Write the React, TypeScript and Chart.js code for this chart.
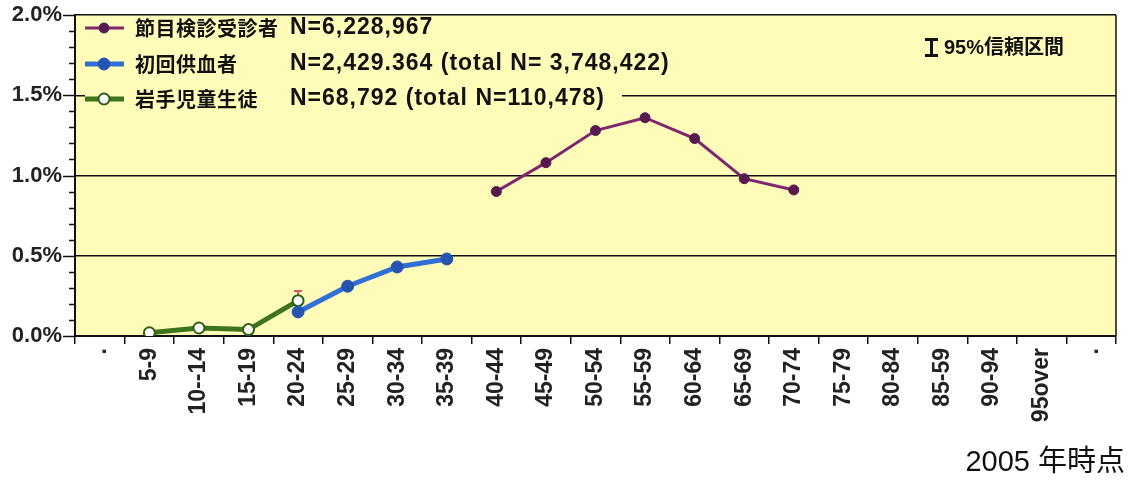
import React, { useEffect, useRef } from "react";
import { Chart, registerables } from "chart.js";

Chart.register(...registerables);

const FONT = "'Liberation Sans', 'Noto Sans CJK JP', sans-serif";
const CJK = "'Noto Sans CJK JP', 'Liberation Sans', sans-serif";

const ageGroups = [".", "5-9", "10--14", "15-19", "20-24", "25-29", "30-34", "35-39", "40-44", "45-49", "50-54", "55-59", "60-64", "65-69", "70-74", "75-79", "80-84", "85-59", "90-94", "95over", "."];

const checkupRates = [null, null, null, null, null, null, null, null, 0.9, 1.08, 1.28, 1.36, 1.23, 0.98, 0.91, null, null, null, null, null, null];
const donorRates = [null, null, null, null, 0.15, 0.31, 0.43, 0.48, null, null, null, null, null, null, null, null, null, null, null, null, null];
const studentRates = [null, 0.02, 0.05, 0.04, 0.22, null, null, null, null, null, null, null, null, null, null, null, null, null, null, null, null];
const studentCIUpper = [null, null, null, null, 0.28, null, null, null, null, null, null, null, null, null, null, null, null, null, null, null, null];

const seriesNames = ["節目検診受診者", "初回供血者", "岩手児童生徒"];
const seriesNotes = ["N=6,228,967", "N=2,429.364 (total N= 3,748,422)", "N=68,792 (total N=110,478)"];
const ciLabel = "95%信頼区間";
const footerText = "2005 年時点";

const BG = "#fffcb9";

const isMajor = (v: number) => Math.round(v * 10) % 5 === 0;

const decorPlugin = {
  id: "decor",
  beforeDraw(chart: any) {
    const { ctx, chartArea: a } = chart;
    ctx.save();
    ctx.fillStyle = "#ffffff";
    ctx.fillRect(0, 0, chart.width, chart.height);
    ctx.fillStyle = BG;
    ctx.fillRect(a.left, a.top, a.right - a.left, a.bottom - a.top);
    ctx.restore();
  },
  beforeDatasetsDraw(chart: any) {
    const { ctx, chartArea: a, scales } = chart;
    const y = scales.y;
    const x = scales.x;
    ctx.save();
    ctx.strokeStyle = "#111";
    ctx.lineWidth = 1.5;
    ctx.beginPath();
    ctx.moveTo(a.right, a.top);
    ctx.lineTo(a.right, a.bottom);
    ctx.stroke();
    y.ticks.forEach((t: any) => {
      const py = Math.round(y.getPixelForValue(t.value)) + 0.5;
      const len = isMajor(t.value) ? 12 : 6;
      ctx.beginPath();
      ctx.moveTo(a.left - len, py);
      ctx.lineTo(a.left, py);
      ctx.stroke();
    });
    ctx.fillStyle = BG;
    ctx.fillRect(85, a.top + 2, 622 - 85, 112 - a.top - 2);
    studentCIUpper.forEach((u, i) => {
      const v = studentRates[i];
      if (u == null || v == null) return;
      const px = x.getPixelForValue(i);
      const py0 = y.getPixelForValue(v);
      const py1 = y.getPixelForValue(u);
      ctx.strokeStyle = "#9a3a4a";
      ctx.lineWidth = 1.5;
      ctx.beginPath();
      ctx.moveTo(px, py0);
      ctx.lineTo(px, py1);
      ctx.stroke();
      ctx.strokeStyle = "#d8506a";
      ctx.lineWidth = 2;
      ctx.beginPath();
      ctx.moveTo(px - 4, py1);
      ctx.lineTo(px + 4, py1);
      ctx.stroke();
    });
    ctx.restore();
  },
  afterDatasetsDraw(chart: any) {
    const { ctx } = chart;
    ctx.save();
    const rows = [28, 64, 99];
    chart.data.datasets.forEach((ds: any, i: number) => {
      const ry = rows[i];
      ctx.strokeStyle = ds.borderColor;
      ctx.lineWidth = ds.borderWidth;
      ctx.beginPath();
      ctx.moveTo(85, ry);
      ctx.lineTo(124, ry);
      ctx.stroke();
      ctx.beginPath();
      ctx.arc(104, ry, ds.pointRadius, 0, Math.PI * 2);
      ctx.fillStyle = ds.pointBackgroundColor;
      ctx.fill();
      ctx.strokeStyle = ds.pointBorderColor;
      ctx.lineWidth = ds.pointBorderWidth;
      ctx.stroke();
      ctx.fillStyle = "#111";
      ctx.textBaseline = "middle";
      ctx.textAlign = "left";
      (ctx as any).letterSpacing = "0.5px";
      ctx.font = `bold 20px ${CJK}`;
      ctx.fillText(seriesNames[i], 135, ry);
      (ctx as any).letterSpacing = "1px";
      ctx.font = `bold 23px ${FONT}`;
      ctx.fillText(seriesNotes[i], 290, ry);
    });
    (ctx as any).letterSpacing = "0px";
    ctx.fillStyle = "#111";
    ctx.fillRect(925, 38, 13, 3);
    ctx.fillRect(930, 38, 3, 19);
    ctx.fillRect(925, 54, 13, 3);
    ctx.textBaseline = "middle";
    ctx.textAlign = "left";
    ctx.font = `bold 20px ${FONT}`;
    ctx.fillText(ciLabel, 944, 48);
    ctx.textAlign = "right";
    ctx.font = `29px ${FONT}`;
    ctx.fillText(footerText, 1125, 463);
    ctx.restore();
  },
};

export default function App() {
  const ref = useRef<HTMLCanvasElement | null>(null);
  useEffect(() => {
    if (!ref.current) return;
    const chart = new Chart(ref.current, {
      type: "line",
      data: {
        labels: ageGroups,
        datasets: [
          {
            label: seriesNames[0],
            data: checkupRates,
            borderColor: "#7e2670",
            borderWidth: 3,
            pointRadius: 5,
            pointBackgroundColor: "#561a4f",
            pointBorderColor: "#561a4f",
            pointBorderWidth: 1,
            spanGaps: false,
          },
          {
            label: seriesNames[1],
            data: donorRates,
            borderColor: "#2f6fd6",
            borderWidth: 5,
            pointRadius: 6,
            pointBackgroundColor: "#2553b0",
            pointBorderColor: "#2553b0",
            pointBorderWidth: 1,
            spanGaps: false,
          },
          {
            label: seriesNames[2],
            data: studentRates,
            borderColor: "#3d741c",
            borderWidth: 5,
            pointRadius: 5.5,
            pointBackgroundColor: "#ffffff",
            pointBorderColor: "#2e5e14",
            pointBorderWidth: 2,
            spanGaps: false,
          },
        ],
      },
      options: {
        responsive: false,
        animation: false,
        layout: { padding: { top: 15, right: 15, left: 0, bottom: 0 } },
        plugins: { legend: { display: false }, tooltip: { enabled: false } },
        scales: {
          x: {
            offset: true,
            grid: { offset: true, drawOnChartArea: false, drawTicks: true, tickLength: 8, color: "#111", lineWidth: 1.5 },
            border: { color: "#111", width: 2 },
            ticks: {
              autoSkip: false,
              maxRotation: 90,
              minRotation: 90,
              padding: 4,
              color: "#222",
              font: { family: FONT, size: 23, weight: "bold" },
            },
            afterFit: (s: any) => {
              s.height = 144;
            },
          },
          y: {
            min: 0,
            max: 2,
            ticks: {
              stepSize: 0.1,
              autoSkip: false,
              padding: 0,
              color: "#222",
              font: { family: FONT, size: 22, weight: "bold" },
              callback: (v: any) => (isMajor(Number(v)) ? Number(v).toFixed(1) + "%" : ""),
            },
            grid: {
              drawTicks: true,
              tickLength: 13,
              tickColor: "rgba(0,0,0,0)",
              lineWidth: 1.5,
              color: (c: any) => (c.tick && isMajor(c.tick.value) && c.tick.value > 0.01 ? "#111" : "rgba(0,0,0,0)"),
            },
            border: { color: "#111", width: 2 },
            afterFit: (s: any) => {
              s.width = 75;
            },
          },
        },
      },
      plugins: [decorPlugin],
    } as any);
    return () => chart.destroy();
  }, []);
  return (
    <div style={{ position: "fixed", left: 0, top: 0, width: 1131, height: 480, background: "#fff" }}>
      <canvas ref={ref} width={1131} height={480} style={{ display: "block" }} />
    </div>
  );
}
